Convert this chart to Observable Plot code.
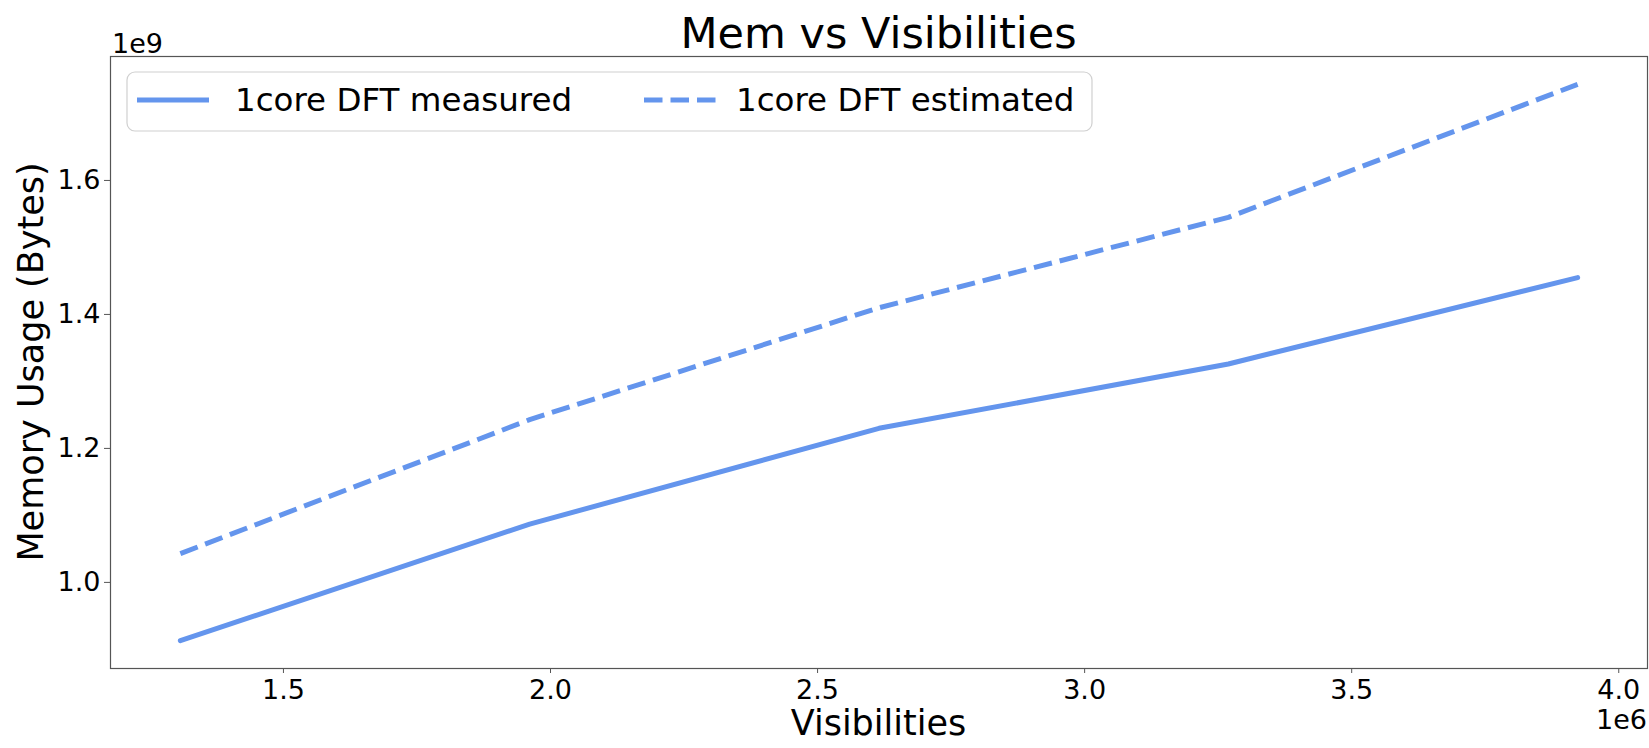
<!DOCTYPE html>
<html><head><meta charset="utf-8">
<script src="https://cdn.jsdelivr.net/npm/d3@7"></script>
<script src="https://cdn.jsdelivr.net/npm/@observablehq/plot@0.6"></script>
<style>body{margin:0;background:#fff} svg{font-family:"DejaVu Sans",sans-serif}</style>
</head><body><div id="chart"></div>
<script>
const visibilities = [1.307e6, 1.961e6, 2.615e6, 3.269e6, 3.923e6];
const measured = [0.913e9, 1.087e9, 1.230e9, 1.326e9, 1.455e9];
const estimated = [1.043e9, 1.243e9, 1.410e9, 1.545e9, 1.7435e9];
const xTicks = [1.5e6, 2.0e6, 2.5e6, 3.0e6, 3.5e6, 4.0e6];
const yTicks = [1.0e9, 1.2e9, 1.4e9, 1.6e9];
const seriesNames = ["1core DFT measured", "1core DFT estimated"];
const title = "Mem vs Visibilities";
const xLabel = "Visibilities";
const yLabel = "Memory Usage (Bytes)";
const xOffset = "1e6", yOffset = "1e9";
const lineColor = "#6495ED";

const rows = visibilities.flatMap((v, i) => [
  {x: v, y: measured[i], s: seriesNames[0]},
  {x: v, y: estimated[i], s: seriesNames[1]}
]);
function padded(a) { const lo = d3.min(a), hi = d3.max(a), p = (hi - lo) * 0.05; return [lo - p, hi + p]; }

const W = 1649, H = 748, mL = 110, mR = 2, mT = 56, mB = 80;
const plot = Plot.plot({
  width: W, height: H, marginLeft: mL, marginRight: mR, marginTop: mT, marginBottom: mB,
  style: {fontFamily: "DejaVu Sans", fontSize: "27px", color: "#000", background: "#fff"},
  x: {domain: padded(visibilities)},
  y: {domain: padded([...measured, ...estimated])},
  marks: [
    Plot.frame({stroke: "#555", strokeWidth: 1.2}),
    Plot.axisX({ticks: xTicks, tickFormat: d => (d / 1e6).toFixed(1), tickSize: 5, tickPadding: 6, label: null, stroke: "#555"}),
    Plot.axisY({ticks: yTicks, tickFormat: d => (d / 1e9).toFixed(1), tickSize: 6, tickPadding: 4, label: null, stroke: "#555"}),
    Plot.line(rows.filter(d => d.s === seriesNames[0]), {x: "x", y: "y", stroke: lineColor, strokeWidth: 5}),
    Plot.line(rows.filter(d => d.s === seriesNames[1]), {x: "x", y: "y", stroke: lineColor, strokeWidth: 5, strokeDasharray: "18.5,8", strokeLinecap: "butt"})
  ]
});

const svg = d3.select(plot);
const cx = (mL + W - mR) / 2;
svg.append("text").attr("x", cx).attr("y", 48).attr("text-anchor", "middle").attr("font-size", 43).attr("fill", "#000").text(title);
svg.append("text").attr("x", cx).attr("y", 735).attr("text-anchor", "middle").attr("font-size", 35).attr("fill", "#000").text(xLabel);
svg.append("text").attr("transform", `translate(43,${(mT + H - mB) / 2}) rotate(-90)`).attr("text-anchor", "middle").attr("font-size", 35).attr("fill", "#000").text(yLabel);
svg.append("text").attr("x", 112).attr("y", 53).attr("text-anchor", "start").attr("font-size", 27).attr("fill", "#000").text(yOffset);
svg.append("text").attr("x", W - mR).attr("y", 729).attr("text-anchor", "end").attr("font-size", 27).attr("fill", "#000").text(xOffset);

// legend
const lg = svg.append("g");
lg.append("rect").attr("x", 127).attr("y", 72).attr("width", 965).attr("height", 59).attr("rx", 8)
  .attr("fill", "#fff").attr("fill-opacity", 0.8).attr("stroke", "#d0d0d0").attr("stroke-width", 1.2);
const entries = [{x0: 137, tx: 235, dash: null}, {x0: 644, tx: 736, dash: "18.5,8"}];
entries.forEach((e, i) => {
  const l = lg.append("line").attr("x1", e.x0).attr("x2", e.x0 + 72).attr("y1", 100).attr("y2", 100)
    .attr("stroke", lineColor).attr("stroke-width", 5);
  if (e.dash) l.attr("stroke-dasharray", e.dash);
  lg.append("text").attr("x", e.tx).attr("y", 111).attr("text-anchor", "start").attr("font-size", 32.5).attr("fill", "#000").text(seriesNames[i]);
});

document.getElementById("chart").appendChild(plot);
</script>
</body></html>
